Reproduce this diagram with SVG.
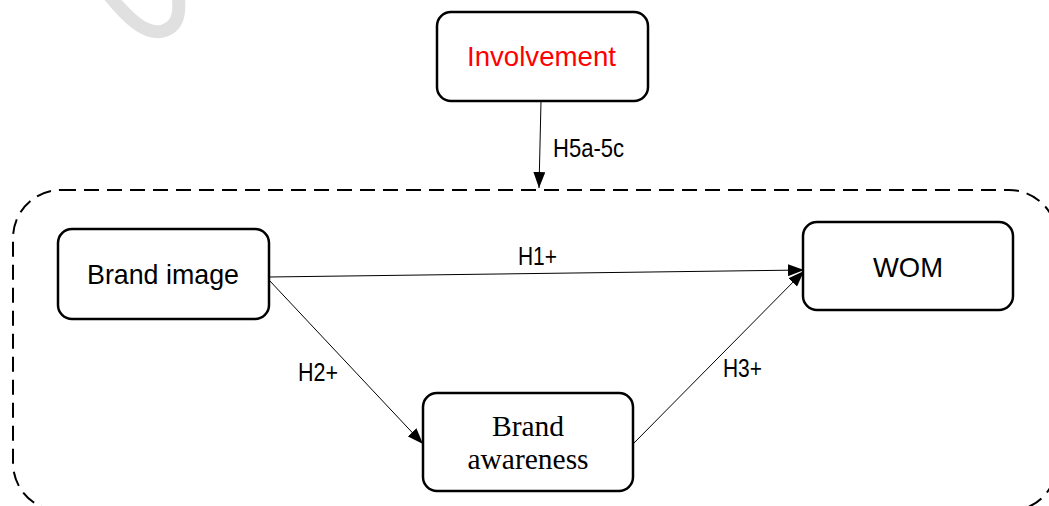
<svg xmlns="http://www.w3.org/2000/svg" width="1049" height="506" viewBox="0 0 1049 506">
<style>
.box{fill:#fff;stroke:#000;stroke-width:2.5}
.sans{font-family:"Liberation Sans",Arial,sans-serif;fill:#000}
.node{font-size:28px;text-anchor:middle}
.lbl{font-size:25px}
.serif{font-family:"Liberation Serif","Times New Roman",serif;font-size:29.5px;text-anchor:middle;fill:#000}
.edge{stroke:#000;stroke-width:1;fill:none}
</style>
<defs>
<marker id="arr" viewBox="0 0 16 12" refX="16" refY="6" markerWidth="16" markerHeight="12" markerUnits="userSpaceOnUse" orient="auto">
<path d="M0,0 L16,6 L0,12 Z" fill="#000"/>
</marker>
</defs>
<rect width="1049" height="506" fill="#fff"/>
<path d="M108,-6 C126,16 145,36 163,31 C180,26 180,10 178,-6" fill="none" stroke="#e0e0e0" stroke-width="13"/>
<rect id="frame" x="13" y="190" width="1044" height="321" rx="48" ry="48" fill="none" stroke="#000" stroke-width="2" stroke-dasharray="15 8"/>
<g id="connectors">
<line class="edge" x1="541" y1="101" x2="539" y2="188" marker-end="url(#arr)"/>
<text class="sans lbl" x="553" y="157" textLength="71" lengthAdjust="spacingAndGlyphs">H5a-5c</text>
<line class="edge" x1="269" y1="277" x2="804" y2="270" marker-end="url(#arr)"/>
<text class="sans lbl" x="518" y="265" textLength="39" lengthAdjust="spacingAndGlyphs">H1+</text>
<line class="edge" x1="269" y1="280" x2="423" y2="444" marker-end="url(#arr)"/>
<text class="sans lbl" x="298" y="381" textLength="40" lengthAdjust="spacingAndGlyphs">H2+</text>
<line class="edge" x1="634" y1="443" x2="804" y2="271" marker-end="url(#arr)"/>
<text class="sans lbl" x="723" y="377" textLength="39" lengthAdjust="spacingAndGlyphs">H3+</text>
</g>
<g id="involvement">
<rect class="box" x="437" y="12" width="211" height="89" rx="14"/>
<text class="sans node" x="541.5" y="66" style="fill:#ff0000" textLength="149" lengthAdjust="spacingAndGlyphs">Involvement</text>
</g>
<g id="brand-image">
<rect class="box" x="58" y="229" width="211" height="90" rx="14"/>
<text class="sans node" x="163" y="284" textLength="152" lengthAdjust="spacingAndGlyphs">Brand image</text>
</g>
<g id="wom">
<rect class="box" x="803" y="222" width="210" height="88" rx="14"/>
<text class="sans node" x="908" y="277" textLength="70" lengthAdjust="spacingAndGlyphs">WOM</text>
</g>
<g id="brand-awareness">
<rect class="box" x="423" y="393" width="210" height="98" rx="14"/>
<text class="serif" x="528" y="436">Brand</text>
<text class="serif" x="528" y="469">awareness</text>
</g>
</svg>
